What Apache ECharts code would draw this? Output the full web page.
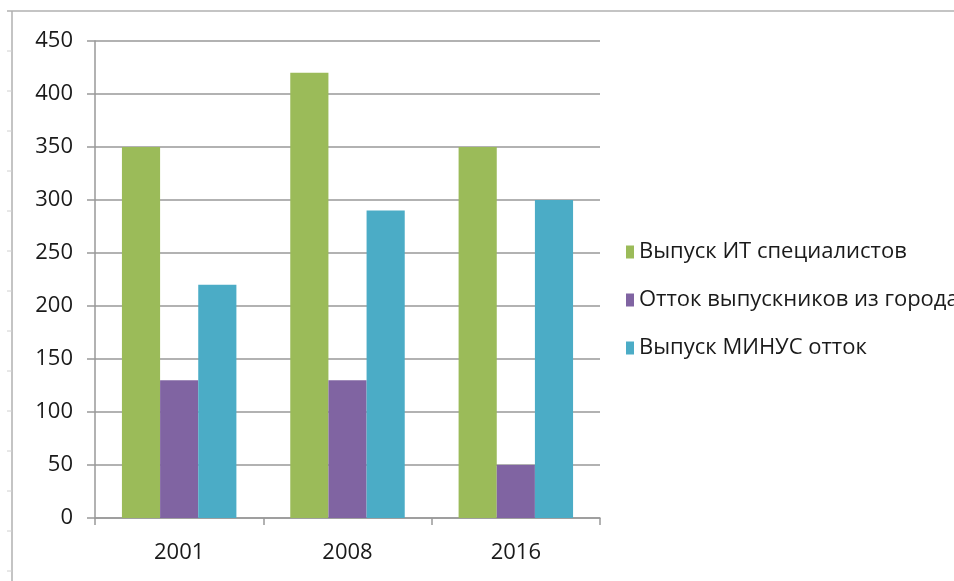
<!DOCTYPE html>
<html>
<head>
<meta charset="utf-8">
<script src="https://cdn.jsdelivr.net/npm/echarts@6/dist/echarts.min.js"></script>
<style>
html, body { margin: 0; padding: 0; background: #fff; }
#chart { width: 954px; height: 581px; }
</style>
</head>
<body>
<div id="chart"></div>
<script>
// данные графика
var years = ['2001', '2008', '2016'];
var vypusk = [350, 420, 350];
var ottok = [130, 130, 50];
var minus = [220, 290, 300];
var seriesNames = ['Выпуск ИТ специалистов', 'Отток выпускников из города', 'Выпуск МИНУС отток'];

var myChart = echarts.init(document.getElementById('chart'));

// рамка области диаграммы (как в Excel)
var frame = [
    { type: 'line', shape: { x1: 7, y1: 11, x2: 954, y2: 11 }, style: { stroke: '#b0b0b0', lineWidth: 1.5 } },
    { type: 'line', shape: { x1: 12, y1: 11, x2: 12, y2: 581 }, style: { stroke: '#b0b0b0', lineWidth: 1.5 } }
];
for (var y = 51; y < 581; y += 40) {
    frame.push({ type: 'line', shape: { x1: 7, y1: y, x2: 12, y2: y }, style: { stroke: '#d0d0d0', lineWidth: 1 } });
}

var labelFont = { fontFamily: 'Open Sans', fontSize: 22, color: '#1a1a1a' };

var option = {
    animation: false,
    graphic: frame,
    color: ['#9BBB59', '#8064A2', '#4BACC6'],
    legend: {
        orient: 'vertical',
        left: 621,
        top: 236,
        itemWidth: 8,
        itemHeight: 13,
        itemGap: 26,
        icon: 'rect',
        textStyle: { fontFamily: 'Open Sans', fontSize: 22, color: '#1a1a1a' },
        data: seriesNames
    },
    grid: {
        left: 95,
        right: 354,
        top: 41,
        bottom: 63
    },
    xAxis: {
        type: 'category',
        data: years,
        axisLine: { lineStyle: { color: '#999', width: 1.5 } },
        axisTick: { show: true, length: 7, lineStyle: { color: '#999', width: 1.5 } },
        axisLabel: Object.assign({ margin: 24 }, labelFont)
    },
    yAxis: {
        type: 'value',
        min: 0,
        max: 450,
        interval: 50,
        axisLine: { show: true, lineStyle: { color: '#999', width: 1.5 } },
        axisTick: { show: true, length: 8, lineStyle: { color: '#999', width: 1.5 } },
        axisLabel: Object.assign({ margin: 22 }, labelFont),
        splitLine: { lineStyle: { color: '#999', width: 1.5 } }
    },
    series: [
        { name: seriesNames[0], type: 'bar', data: vypusk, barGap: '0%', barCategoryGap: '32%' },
        { name: seriesNames[1], type: 'bar', data: ottok, barGap: '0%', barCategoryGap: '32%' },
        { name: seriesNames[2], type: 'bar', data: minus, barGap: '0%', barCategoryGap: '32%' }
    ]
};
myChart.setOption(option);
</script>
</body>
</html>
